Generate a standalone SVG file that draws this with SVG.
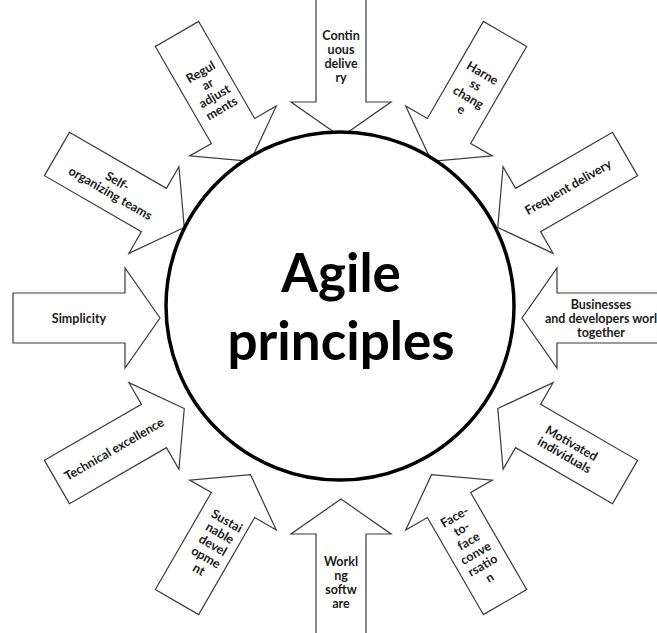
<svg xmlns="http://www.w3.org/2000/svg" xmlns:xlink="http://www.w3.org/1999/xlink" width="657" height="633" viewBox="0 0 657 633">
<style>
.arrow{fill:#fff;stroke:#3a3a3a;stroke-width:1.2;stroke-linejoin:miter}
.lbl{font-family:Lato,"Open Sans","Liberation Sans",sans-serif;font-weight:700;font-size:12.5px;fill:#1a1a1a;text-anchor:middle}
.title{font-family:Lato,"Open Sans","Liberation Sans",sans-serif;font-weight:700;font-size:53px;fill:#000;text-anchor:middle}
</style>
<defs>
<path id="arr" d="M-328,-25 H-216 V-50 L-181,0 L-216,50 V25 H-328 Z"/>
</defs>
<rect width="657" height="633" fill="#fff"/>
<g id="n-continuous"><use href="#arr" class="arrow" transform="translate(341,318) rotate(90)"/>
<text class="lbl" transform="translate(341,56)"><tspan x="0" y="-16.5">Contin</tspan><tspan x="0" y="-2.5">uous</tspan><tspan x="0" y="11.5">delive</tspan><tspan x="0" y="25.5">ry</tspan></text></g>
<g id="n-harness"><use href="#arr" class="arrow" transform="translate(341,318) rotate(120)"/>
<text class="lbl" transform="translate(472,91) rotate(30)"><tspan x="0" y="-16.5">Harne</tspan><tspan x="0" y="-2.5">ss</tspan><tspan x="0" y="11.5">chang</tspan><tspan x="0" y="25.5">e</tspan></text></g>
<g id="n-frequent"><use href="#arr" class="arrow" transform="translate(341,318) rotate(150)"/>
<text class="lbl" transform="translate(568,187) rotate(-30)"><tspan x="0" y="4.5">Frequent delivery</tspan></text></g>
<g id="n-businesses"><use href="#arr" class="arrow" transform="translate(341,318) rotate(180)"/>
<text class="lbl" transform="translate(601,318)"><tspan x="0" y="-9.5">Businesses</tspan><tspan x="0" y="4.5">and developers worl</tspan><tspan x="0" y="18.5">together</tspan></text></g>
<g id="n-motivated"><use href="#arr" class="arrow" transform="translate(341,318) rotate(210)"/>
<text class="lbl" transform="translate(568,449) rotate(30)"><tspan x="0" y="-2.5">Motivated</tspan><tspan x="0" y="11.5">individuals</tspan></text></g>
<g id="n-face"><use href="#arr" class="arrow" transform="translate(341,318) rotate(240)"/>
<text class="lbl" transform="translate(472,547) rotate(-30)"><tspan x="0" y="-30.5">Face-</tspan><tspan x="0" y="-16.5">to-</tspan><tspan x="0" y="-2.5">face</tspan><tspan x="0" y="11.5">conve</tspan><tspan x="0" y="25.5">rsatio</tspan><tspan x="0" y="39.5">n</tspan></text></g>
<g id="n-working"><use href="#arr" class="arrow" transform="translate(341,318) rotate(270)"/>
<text class="lbl" transform="translate(341,582)"><tspan x="0" y="-16.5">Workl</tspan><tspan x="0" y="-2.5">ng</tspan><tspan x="0" y="11.5">softw</tspan><tspan x="0" y="25.5">are</tspan></text></g>
<g id="n-sustainable"><use href="#arr" class="arrow" transform="translate(341,318) rotate(300)"/>
<text class="lbl" transform="translate(213,545) rotate(30)"><tspan x="0" y="-23.5">Sustai</tspan><tspan x="0" y="-9.5">nable</tspan><tspan x="0" y="4.5">devel</tspan><tspan x="0" y="18.5">opme</tspan><tspan x="0" y="32.5">nt</tspan></text></g>
<g id="n-technical"><use href="#arr" class="arrow" transform="translate(341,318) rotate(330)"/>
<text class="lbl" transform="translate(114,449) rotate(-30)"><tspan x="0" y="4.5">Technical excellence</tspan></text></g>
<g id="n-simplicity"><use href="#arr" class="arrow" transform="translate(341,318)"/>
<text class="lbl" transform="translate(79,318)"><tspan x="0" y="4.5">Simplicity</tspan></text></g>
<g id="n-self"><use href="#arr" class="arrow" transform="translate(341,318) rotate(30)"/>
<text class="lbl" transform="translate(114,187) rotate(30)"><tspan x="0" y="-2.5">Self-</tspan><tspan x="0" y="11.5">organizing teams</tspan></text></g>
<g id="n-regular"><use href="#arr" class="arrow" transform="translate(341,318) rotate(60)"/>
<text class="lbl" transform="translate(211,90) rotate(-30)"><tspan x="0" y="-16.5">Regul</tspan><tspan x="0" y="-2.5">ar</tspan><tspan x="0" y="11.5">adjust</tspan><tspan x="0" y="25.5">ments</tspan></text></g>
<g id="n-center">
<circle cx="340" cy="306" r="174" fill="#fff" stroke="#000" stroke-width="3.5"/>
<text class="title"><tspan x="341" y="292">Agile</tspan><tspan x="341" y="360">principles</tspan></text>
</g>
</svg>
